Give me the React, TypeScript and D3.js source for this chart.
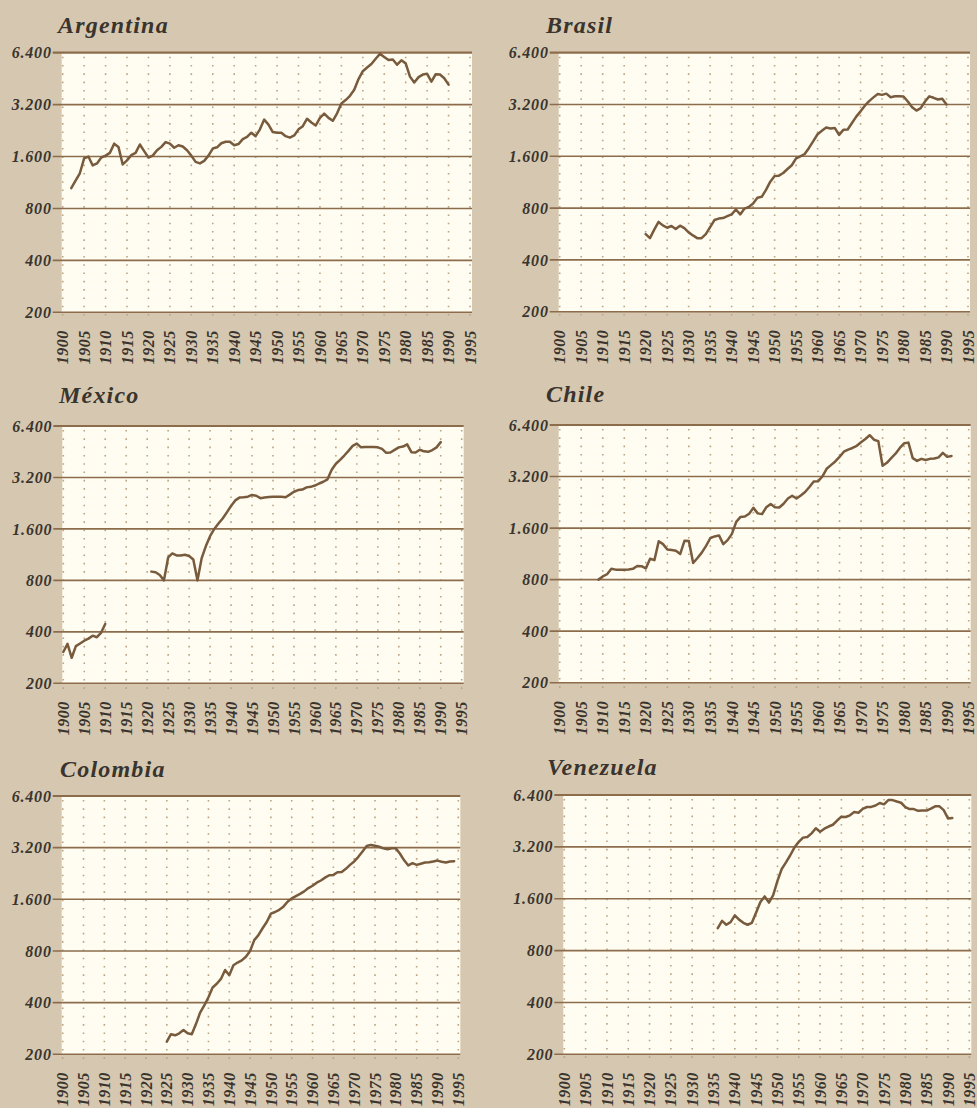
import React from "react";
import * as d3 from "d3";

// GDP per capita, yearly readings (log2 scale chart)
const argentinaStart = 1902;
const argentinaGdp = [
  1050, 1160, 1280, 1560, 1600, 1420, 1460, 1580, 1620, 1680, 1900, 1820, 1440, 1520, 1630, 1680,
  1880, 1720, 1580, 1620, 1740, 1820, 1940, 1900, 1800, 1860, 1830, 1740, 1620, 1490, 1460, 1510,
  1620, 1780, 1810, 1910, 1950, 1950, 1860, 1890, 2020, 2080, 2200, 2100, 2300, 2620, 2450, 2220,
  2200, 2200, 2100, 2060, 2120, 2300, 2400, 2650, 2520, 2420, 2680, 2840, 2680, 2580, 2850, 3250,
  3400, 3600, 3900, 4500, 5000, 5250, 5500, 5900, 6300, 6050, 5800, 5850, 5450, 5780, 5550, 4650,
  4300, 4620, 4780, 4830, 4350, 4800, 4780, 4550, 4180,
];

const brasilStart = 1920;
const brasilGdp = [
  565, 535, 600, 665, 635, 615, 630, 605, 632, 612, 578, 555, 535, 535, 565, 620, 682, 695, 700,
  718, 735, 785, 735, 795, 812, 850, 920, 930, 1020, 1140, 1230, 1235, 1280, 1350, 1420, 1555,
  1600, 1650, 1790, 1960, 2150, 2250, 2350, 2320, 2340, 2130, 2280, 2290, 2500, 2720, 2920, 3150,
  3350, 3520, 3680, 3640, 3700, 3530, 3570, 3570, 3560, 3330, 3080, 2950, 3050, 3330, 3570, 3500,
  3420, 3460, 3200,
];

// null = no data (1911-1920)
const mexicoStart = 1900;
const mexicoGdp = [
  305, 340, 282, 330, 342, 355, 365, 380, 372, 395, 445,
  null, null, null, null, null, null, null, null, null, null,
  900, 892, 860, 800, 1090, 1150, 1120, 1120, 1130, 1110, 1060, 800, 1080, 1270, 1450, 1600, 1720,
  1840, 2000, 2180, 2350, 2440, 2450, 2470, 2530, 2500, 2420, 2440, 2460, 2470, 2470, 2470, 2450,
  2540, 2640, 2700, 2720, 2800, 2820, 2870, 2950, 3020, 3120, 3550, 3850, 4060, 4300, 4580, 4900,
  5050, 4800, 4820, 4830, 4830, 4800, 4700, 4460, 4480, 4640, 4800, 4850, 5000, 4500, 4480, 4650,
  4550, 4520, 4630, 4800, 5150,
];

const chileStart = 1909;
const chileGdp = [
  800, 835, 860, 925, 915, 915, 915, 918, 925, 960, 958, 930, 1060, 1040, 1340, 1290, 1200, 1190,
  1180, 1130, 1350, 1345, 1000, 1070, 1150, 1260, 1400, 1430, 1450, 1290, 1360, 1480, 1740, 1860,
  1870, 1940, 2100, 1950, 1930, 2120, 2210, 2120, 2110, 2220, 2380, 2470, 2380, 2480, 2600, 2780,
  2990, 3000, 3200, 3550, 3730, 3920, 4170, 4470, 4600, 4700, 4840, 5080, 5300, 5580, 5250, 5150,
  3700, 3850, 4100, 4350, 4700, 5000, 5050, 4100, 3950, 4060, 4000, 4060, 4080, 4140, 4400, 4170,
  4220,
];

const colombiaStart = 1925;
const colombiaGdp = [
  237, 262, 258, 265, 277, 265, 262, 300, 350, 385, 430, 490, 515, 550, 620, 578, 660, 685, 705,
  740, 800, 925, 990, 1085, 1180, 1320, 1350, 1390, 1450, 1550, 1620, 1670, 1720, 1780, 1860,
  1920, 2000, 2060, 2140, 2210, 2220, 2300, 2310, 2410, 2540, 2660, 2830, 3040, 3270, 3320, 3280,
  3240, 3170, 3130, 3170, 3170, 2950, 2700, 2520, 2600, 2540, 2580, 2620, 2630, 2660, 2690, 2650,
  2620, 2660, 2670,
];

const venezuelaStart = 1936;
const venezuelaGdp = [
  1080, 1190, 1130, 1170, 1280, 1210, 1160, 1130, 1160, 1330, 1530, 1650, 1520, 1680, 2030, 2380,
  2600, 2860, 3180, 3420, 3620, 3650, 3830, 4100, 3920, 4080, 4200, 4300, 4550, 4790, 4770, 4880,
  5100, 5050, 5320, 5450, 5460, 5560, 5750, 5650, 5980, 5980, 5870, 5770, 5450, 5300, 5300, 5180,
  5200, 5200, 5330, 5500, 5500, 5230, 4680, 4700,
];

const yTicks = [200, 400, 800, 1600, 3200, 6400];
const yTickLabels = ["200", "400", "800", "1.600", "3.200", "6.400"];
const xTicks = [
  1900, 1905, 1910, 1915, 1920, 1925, 1930, 1935, 1940, 1945, 1950, 1955, 1960, 1965, 1970, 1975,
  1980, 1985, 1990, 1995,
];

const W = 977;
const H = 1108;
const FONT = "'Liberation Serif', 'DejaVu Serif', serif";
const BG = "#d6c8b0";
const PLOT_BG = "#fffdf1";
const GRID = "#8d6c4c";
const DOTS = "#bba483";
const LINE = "#785a3d";
const TEXT = "#3a342e";

// panel frames (layout only)
const panels = [
  { name: "Argentina", start: argentinaStart, values: argentinaGdp, x0: 62.7, x1: 470, top: 52.7, bottom: 312.3, tx: 58, ty: 33 },
  { name: "Brasil", start: brasilStart, values: brasilGdp, x0: 559.7, x1: 968, top: 52.7, bottom: 311.7, tx: 546, ty: 33 },
  { name: "México", start: mexicoStart, values: mexicoGdp, x0: 63.3, x1: 461.7, top: 426, bottom: 683.3, tx: 59, ty: 403 },
  { name: "Chile", start: chileStart, values: chileGdp, x0: 559.7, x1: 968.7, top: 425, bottom: 682.7, tx: 546, ty: 402 },
  { name: "Colombia", start: colombiaStart, values: colombiaGdp, x0: 62.7, x1: 458.3, top: 796, bottom: 1054.3, tx: 60, ty: 777 },
  { name: "Venezuela", start: venezuelaStart, values: venezuelaGdp, x0: 564.3, x1: 969.3, top: 795, bottom: 1054.3, tx: 547, ty: 775 },
];

type Pt = [number, number | null];

function Panel({ p }: { p: (typeof panels)[number] }) {
  const x = d3.scaleLinear().domain([1900, 1995]).range([p.x0, p.x1]);
  const y = d3.scaleLog().base(2).domain([200, 6400]).range([p.bottom, p.top]);
  const pts: Pt[] = p.values.map((v, i) => [p.start + i, v]);
  const line = d3
    .line<Pt>()
    .defined((d) => d[1] != null)
    .x((d) => x(d[0]))
    .y((d) => y(d[1] as number));

  return (
    <g>
      <text
        x={p.tx}
        y={p.ty}
        fontFamily={FONT}
        fontStyle="italic"
        fontWeight="bold"
        fontSize={24}
        letterSpacing={1.2}
        fill={TEXT}
      >
        {p.name}
      </text>
      <rect
        x={x(1900) - 1}
        y={p.top}
        width={x(1995) - x(1900) + 3}
        height={p.bottom - p.top}
        fill={PLOT_BG}
      />
      {xTicks.map((t) => (
        <line
          key={"v" + t}
          x1={x(t)}
          x2={x(t)}
          y1={p.top + 4}
          y2={p.bottom + 9}
          stroke={DOTS}
          strokeWidth={1.6}
          strokeDasharray="1.6 6.7"
        />
      ))}
      {yTicks.map((t, i) => (
        <g key={"h" + t}>
          <line
            x1={x(1900) - 10}
            x2={x(1995) + 2}
            y1={y(t)}
            y2={y(t)}
            stroke={GRID}
            strokeWidth={t === 6400 ? 2.2 : 1.6}
          />
          <text
            x={x(1900) - 11}
            y={y(t)}
            dy="0.35em"
            textAnchor="end"
            fontFamily={FONT}
            fontStyle="italic"
            fontWeight="bold"
            fontSize={16}
            letterSpacing={0.8}
            fill={TEXT}
          >
            {yTickLabels[i]}
          </text>
        </g>
      ))}
      {xTicks.map((t) => (
        <text
          key={"xl" + t}
          transform={`translate(${x(t)},${p.bottom + 18}) rotate(-90)`}
          dy="0.35em"
          textAnchor="end"
          fontFamily={FONT}
          fontStyle="italic"
          fontWeight="bold"
          fontSize={16}
          letterSpacing={0.5}
          fill={TEXT}
        >
          {t}
        </text>
      ))}
      <path
        d={line(pts) ?? ""}
        fill="none"
        stroke={LINE}
        strokeWidth={2.5}
        strokeLinejoin="round"
        strokeLinecap="round"
      />
    </g>
  );
}

export default function App() {
  return (
    <svg
      width={W}
      height={H}
      viewBox={`0 0 ${W} ${H}`}
      style={{ position: "absolute", left: 0, top: 0, display: "block" }}
    >
      <rect x={0} y={0} width={W} height={H} fill={BG} />
      {panels.map((p) => (
        <Panel key={p.name} p={p} />
      ))}
    </svg>
  );
}
